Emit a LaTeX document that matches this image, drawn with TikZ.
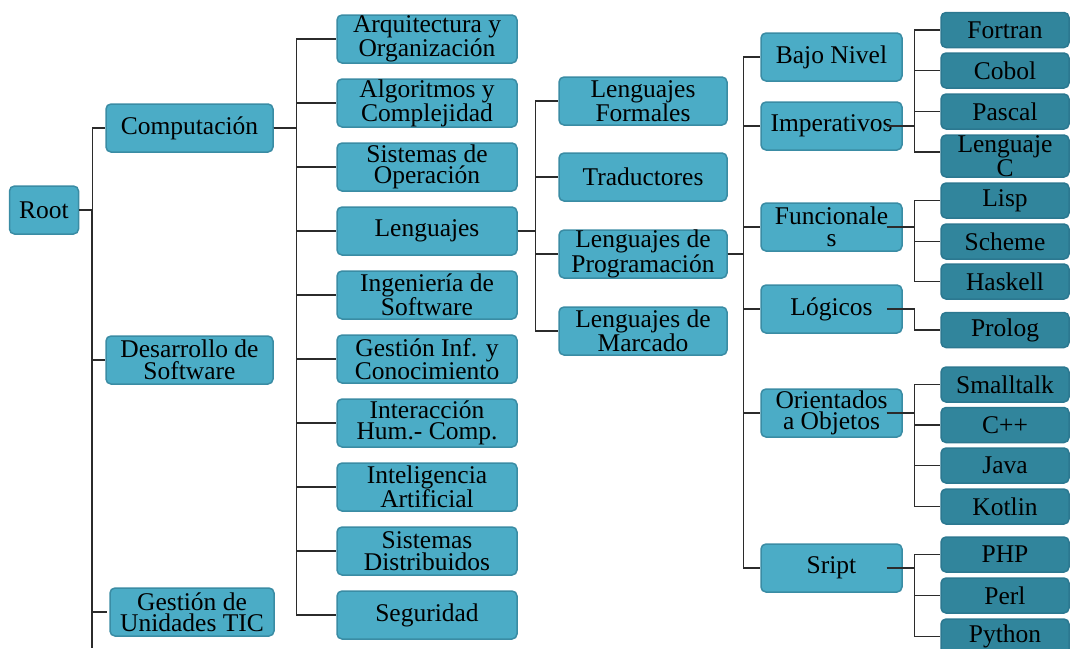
\documentclass[tikz,border=0pt]{standalone}
\usepackage{fontspec}
\setmainfont{Liberation Serif}
\definecolor{aqua}{HTML}{4BACC6}
\definecolor{aquaedge}{HTML}{3A8CA4}
\definecolor{deepaqua}{HTML}{31859C}
\definecolor{deepedge}{HTML}{2C7890}
\definecolor{wire}{HTML}{2B2B2B}
\begin{document}
\begin{tikzpicture}[x=1pt,y=-1pt,
  box/.style={rectangle, rounded corners=5pt, fill=aqua, draw=aquaedge, line width=1.5pt,
    minimum height=48pt, inner sep=0pt, align=center, text=black,
    font=\fontsize{25.5}{21.5}\selectfont},
  lvlone/.style={box, minimum width=167pt},
  lvltwo/.style={box, minimum width=180pt},
  lvlthree/.style={box, minimum width=168pt},
  lvlfour/.style={box, minimum width=141pt},
  leaf/.style={box, fill=deepaqua, draw=deepedge, minimum width=128pt, minimum height=35pt},
  wire/.style={draw=wire, line width=1.4pt}]
\useasboundingbox (0,0) rectangle (1070,648);
\clip (0,0) rectangle (1070,648);

% root and first level
\node[box, minimum width=69pt] (root) at (44,210) {Root};
\node[lvlone] (comp) at (189.5,128) {Computación};
\node[lvlone] (des) at (189.5,360) {Desarrollo de\\Software};
\node[box, minimum width=164pt] (ges) at (192,612) {Gestión de\\Unidades TIC};

% areas of computing
\node[lvltwo] (arq) at (427,39) {Arquitectura y\\Organización};
\node[lvltwo] (alg) at (427,103) {Algoritmos y\\Complejidad};
\node[lvltwo] (sop) at (427,167) {Sistemas de\\Operación};
\node[lvltwo] (len) at (427,231) {Lenguajes};
\node[lvltwo] (ing) at (427,295) {Ingeniería de\\Software};
\node[lvltwo] (gic) at (427,359) {Gestión Inf. y\\Conocimiento};
\node[lvltwo] (ihc) at (427,423) {Interacción\\Hum.- Comp.};
\node[lvltwo] (ia) at (427,487) {Inteligencia\\Artificial};
\node[lvltwo] (sd) at (427,551) {Sistemas\\Distribuidos};
\node[lvltwo] (seg) at (427,615) {Seguridad};

% languages
\node[lvlthree] (lfor) at (643,101) {Lenguajes\\Formales};
\node[lvlthree] (trad) at (643,177) {Traductores};
\node[lvlthree] (lprog) at (643,254) {Lenguajes de\\Programación};
\node[lvlthree] (lmar) at (643,331) {Lenguajes de\\Marcado};

% paradigms
\node[lvlfour] (bajo) at (831.5,57) {Bajo Nivel};
\node[lvlfour] (imp) at (831.5,126) {Imperativos};
\node[lvlfour] (fun) at (831.5,227) {Funcionale\\s};
\node[lvlfour] (log) at (831.5,309) {Lógicos};
\node[lvlfour] (oo) at (831.5,413) {Orientados\\a Objetos};
\node[lvlfour] (scr) at (831.5,568) {Sript};

% concrete languages
\node[leaf] (fortran) at (1005,30) {Fortran};
\node[leaf] (cobol) at (1005,70.5) {Cobol};
\node[leaf] (pascal) at (1005,111.5) {Pascal};
\node[leaf, minimum height=42pt] (lc) at (1005,156) {Lenguaje\\C};
\node[leaf] (lisp) at (1005,200.5) {Lisp};
\node[leaf] (scheme) at (1005,241.5) {Scheme};
\node[leaf] (haskell) at (1005,281.5) {Haskell};
\node[leaf] (prolog) at (1005,330) {Prolog};
\node[leaf] (small) at (1005,384.5) {Smalltalk};
\node[leaf] (cpp) at (1005,425) {C++};
\node[leaf] (java) at (1005,465.5) {Java};
\node[leaf] (kotlin) at (1005,506.5) {Kotlin};
\node[leaf] (php) at (1005,554.5) {PHP};
\node[leaf] (perl) at (1005,595.5) {Perl};
\node[leaf] (python) at (1005,636.5) {Python};

% tree connectors
\coordinate (rtail) at (92,648);
\draw[wire] (root.east) -| (rtail);
\foreach \c in {comp,des}
  \draw[wire] (root.east) -- ++(13,0) |- (\c.west);
\draw[wire] (root.east) -- ++(13,0) |- ([xshift=-2pt]ges.west);

\foreach \c in {arq,alg,sop,len,ing,gic,ihc,ia,sd,seg}
  \draw[wire] (comp.east) -- ++(23,0) |- (\c.west);

\foreach \c in {lfor,trad,lprog,lmar}
  \draw[wire] (len.east) -- ++(18,0) |- (\c.west);

\foreach \c in {bajo,imp,fun,log,oo,scr}
  \draw[wire] (lprog.east) -- ++(16,0) |- (\c.west);

\foreach \c in {fortran,cobol,pascal}
  \draw[wire] ([xshift=-16pt]imp.east) -- ++(28,0) |- (\c.west);
\draw[wire] ([xshift=-16pt]imp.east) -- ++(28,0) |- ([yshift=4pt]lc.west);

\foreach \c in {lisp,scheme,haskell}
  \draw[wire] ([xshift=-16pt]fun.east) -- ++(28,0) |- (\c.west);

\draw[wire] ([xshift=-16pt]log.east) -- ++(28,0) |- (prolog.west);

\foreach \c in {small,cpp,java,kotlin}
  \draw[wire] ([xshift=-16pt]oo.east) -- ++(28,0) |- (\c.west);

\foreach \c in {php,perl,python}
  \draw[wire] ([xshift=-16pt]scr.east) -- ++(28,0) |- (\c.west);
\end{tikzpicture}
\end{document}
